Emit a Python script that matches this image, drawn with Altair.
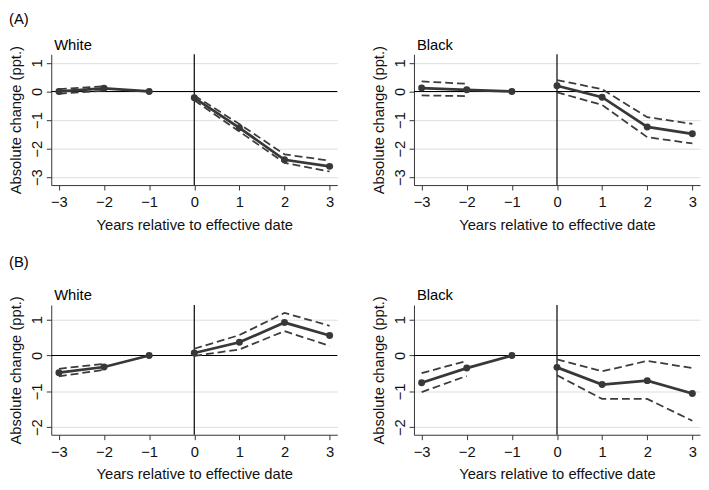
import altair as alt
import pandas as pd

years = [-3, -2, -1, 0, 1, 2, 3]

# Panel (A)
a_white_est = [0.00, 0.11, 0.00, -0.22, -1.27, -2.39, -2.62]
a_white_lo = [-0.08, 0.03, None, -0.31, -1.40, -2.50, -2.80]
a_white_hi = [0.08, 0.18, None, -0.14, -1.14, -2.20, -2.42]

a_black_est = [0.12, 0.06, 0.00, 0.20, -0.20, -1.24, -1.48]
a_black_lo = [-0.14, -0.16, None, -0.03, -0.47, -1.60, -1.82]
a_black_hi = [0.35, 0.27, None, 0.40, 0.08, -0.90, -1.13]

# Panel (B)
b_white_est = [-0.48, -0.32, 0.00, 0.07, 0.37, 0.92, 0.56]
b_white_lo = [-0.58, -0.40, None, -0.01, 0.17, 0.68, 0.27]
b_white_hi = [-0.37, -0.23, None, 0.19, 0.57, 1.19, 0.83]

b_black_est = [-0.76, -0.35, 0.00, -0.33, -0.81, -0.70, -1.06]
b_black_lo = [-1.02, -0.57, None, -0.55, -1.21, -1.21, -1.82]
b_black_hi = [-0.49, -0.15, None, -0.11, -0.44, -0.15, -0.35]

FONT = "Liberation Sans"
FS = 15
LINE = "#383838"
W = 291


def panel(title, est, lo, hi, ydomain, yticks, h, title_y, section=None, section_y=None):
    rows = []
    for x, e, l, u in zip(years, est, lo, hi):
        seg = "pre" if x < 0 else "post"
        rows.append(dict(x=x, v=e, kind="est", seg=seg))
        if l is not None:
            rows.append(dict(x=x, v=l, kind="lo", seg=seg))
        if u is not None:
            rows.append(dict(x=x, v=u, kind="hi", seg=seg))
    df = pd.DataFrame(rows)
    df["grp"] = df["kind"] + "_" + df["seg"]

    xenc = alt.X(
        "x:Q",
        scale=alt.Scale(domain=[-3.17, 3.17], nice=False, zero=False),
        axis=alt.Axis(values=years, format="d", title="Years relative to effective date",
                      grid=False, tickSize=5, labelPadding=5, titlePadding=8),
    )
    yenc = alt.Y(
        "v:Q",
        scale=alt.Scale(domain=ydomain, nice=False, zero=False),
        axis=alt.Axis(values=yticks, format="d", title="Absolute change (ppt.)",
                      grid=True, labelAngle=270, labelAlign="center", labelBaseline="bottom",
                      tickSize=5, labelPadding=2, titlePadding=6),
    )
    base = alt.Chart(df)
    zero_df = pd.DataFrame({"x": [0], "v": [0]})
    vrule = alt.Chart(zero_df).mark_rule(color="black", strokeWidth=1.2).encode(x=xenc)
    hrule = alt.Chart(zero_df).mark_rule(color="black", strokeWidth=1.2).encode(y=yenc)
    ci = base.transform_filter("datum.kind != 'est'").mark_line(
        color="#3c3c3c", strokeWidth=1.8, strokeDash=[8, 4]
    ).encode(x=xenc, y=yenc, detail="grp:N")
    line = base.transform_filter("datum.kind == 'est'").mark_line(
        color=LINE, strokeWidth=2.8
    ).encode(x=xenc, y=yenc, detail="seg:N")
    pts = base.transform_filter("datum.kind == 'est'").mark_circle(
        color=LINE, size=50, opacity=1
    ).encode(x=xenc, y=yenc)
    ttl = alt.Chart(pd.DataFrame({"t": [title]})).mark_text(
        align="left", baseline="alphabetic", font=FONT, fontSize=FS, color="black"
    ).encode(text="t:N", x=alt.value(3), y=alt.value(title_y))
    layers = [hrule, vrule, ci, line, pts, ttl]
    if section is not None:
        sec = alt.Chart(pd.DataFrame({"t": [section]})).mark_text(
            align="left", baseline="alphabetic", font=FONT, fontSize=FS, color="black"
        ).encode(text="t:N", x=alt.value(-43), y=alt.value(section_y))
        layers.append(sec)
    return alt.layer(*layers).properties(width=W, height=h)


row_a = alt.hconcat(
    panel("White", a_white_est, a_white_lo, a_white_hi, [-3.275, 1.3], [-3, -2, -1, 0, 1], 133, -4,
          section="(A)", section_y=-31),
    panel("Black", a_black_est, a_black_lo, a_black_hi, [-3.275, 1.3], [-3, -2, -1, 0, 1], 133, -4),
    spacing=33,
)

row_b = alt.hconcat(
    panel("White", b_white_est, b_white_lo, b_white_hi, [-2.21, 1.41], [-2, -1, 0, 1], 132, -5,
          section="(B)", section_y=-39),
    panel("Black", b_black_est, b_black_lo, b_black_hi, [-2.21, 1.41], [-2, -1, 0, 1], 132, -5),
    spacing=33,
)

chart = alt.vconcat(row_a, row_b, spacing=23).properties(
    padding={"left": 0, "top": 0, "right": 0, "bottom": 0}
).configure(font=FONT).configure_view(stroke=None).configure_axis(
    labelFont=FONT, titleFont=FONT, labelFontSize=FS, titleFontSize=FS,
    titleFontWeight="normal", labelColor="#111111", titleColor="#111111",
    domainColor="#333333", tickColor="#333333", gridColor="#dddddd", gridWidth=1,
    domainWidth=1, tickWidth=1,
)

chart.save("out.html", embed_options={"renderer": "svg", "actions": False})
